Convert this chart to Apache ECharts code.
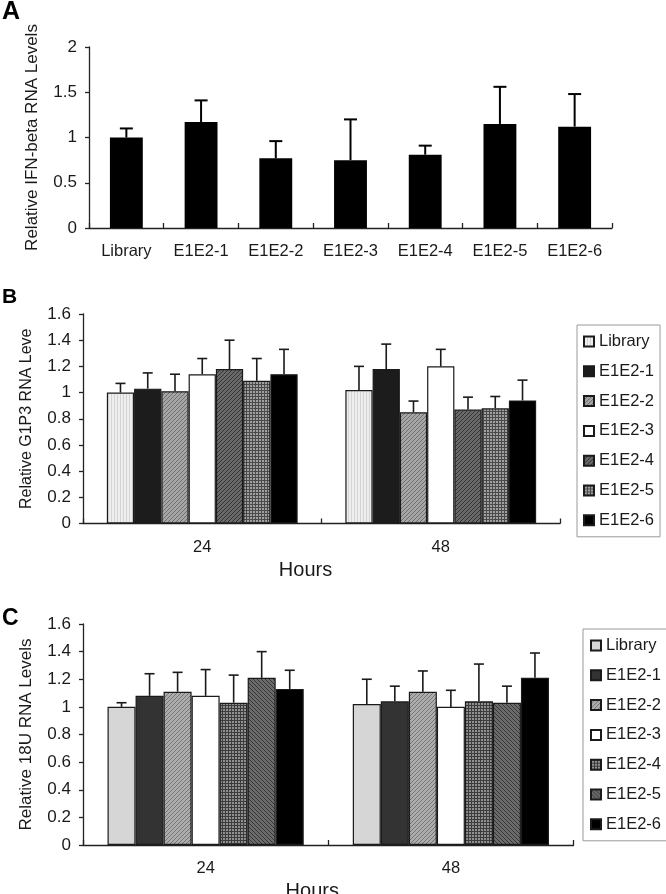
<!DOCTYPE html>
<html>
<head>
<meta charset="utf-8">
<script src="https://cdn.jsdelivr.net/npm/echarts@6/dist/echarts.min.js"></script>
<style>
html,body{margin:0;padding:0;background:#fff;}
#wrap{position:relative;width:666px;height:894px;overflow:hidden;}
.pane{position:absolute;left:0;width:666px;}
</style>
</head>
<body>
<div id="wrap">
<div id="pA" class="pane" style="top:0;height:270px;"></div>
<div id="pB" class="pane" style="top:270px;height:320px;"></div>
<div id="pC" class="pane" style="top:570px;height:324px;"></div>
</div>
<script>
// ---------- DATA ----------
const categoriesA = ['Library', 'E1E2-1', 'E1E2-2', 'E1E2-3', 'E1E2-4', 'E1E2-5', 'E1E2-6'];
const valuesA = [1.00, 1.17, 0.77, 0.75, 0.81, 1.15, 1.12];
const errorsA = [0.10, 0.24, 0.19, 0.45, 0.10, 0.41, 0.36];

const hours = ['24', '48'];
const seriesNames = ['Library', 'E1E2-1', 'E1E2-2', 'E1E2-3', 'E1E2-4', 'E1E2-5', 'E1E2-6'];

const valuesB24 = [1.00, 1.03, 1.01, 1.14, 1.18, 1.09, 1.14];
const errorsB24 = [0.07, 0.12, 0.13, 0.12, 0.22, 0.17, 0.19];
const valuesB48 = [1.02, 1.18, 0.85, 1.20, 0.87, 0.88, 0.94];
const errorsB48 = [0.18, 0.19, 0.085, 0.13, 0.095, 0.09, 0.155];

const valuesC24 = [1.00, 1.08, 1.11, 1.08, 1.03, 1.21, 1.13];
const errorsC24 = [0.03, 0.16, 0.14, 0.19, 0.20, 0.19, 0.135];
const valuesC48 = [1.02, 1.04, 1.11, 1.00, 1.04, 1.03, 1.21];
const errorsC48 = [0.18, 0.11, 0.15, 0.12, 0.27, 0.12, 0.18];

const yTicksA = {min: 0, max: 2, interval: 0.5};
const yTicksBC = {min: 0, max: 1.6, interval: 0.2};

// ---------- STYLE HELPERS ----------
const FONT = '"Liberation Sans", Arial, sans-serif';
const TXT = '#1a1a1a';

function pattern(kind, bg, fg) {
  const c = document.createElement('canvas');
  const n = kind === 'grid' ? 3 : (kind === 'vlines' ? 3 : 4);
  c.width = n; c.height = n;
  const g = c.getContext('2d');
  g.fillStyle = bg; g.fillRect(0, 0, n, n);
  g.fillStyle = fg;
  if (kind === 'diag') { for (let i = 0; i < n; i++) g.fillRect(i, n - 1 - i, 1, 1); }
  else if (kind === 'diag2') { for (let i = 0; i < n; i++) g.fillRect(i, i, 1, 1); }
  else if (kind === 'grid') { g.fillRect(0, 0, n, 1); g.fillRect(0, 0, 1, n); }
  else if (kind === 'vlines') { g.fillRect(0, 0, 1, n); }
  return {image: c, repeat: 'repeat'};
}

const fillsB = [
  pattern('vlines', '#eeeeee', '#d4d4d4'),
  '#1c1c1c',
  pattern('diag', '#a6a6a6', '#6e6e6e'),
  '#ffffff',
  pattern('diag', '#6a6a6a', '#343434'),
  pattern('grid', '#a0a0a0', '#4a4a4a'),
  '#000000'
];
const fillsC = [
  '#d6d6d6',
  '#333333',
  pattern('diag', '#acacac', '#767676'),
  '#ffffff',
  pattern('grid', '#909090', '#3c3c3c'),
  pattern('diag2', '#6c6c6c', '#353535'),
  '#000000'
];

function yAxisCfg(ticks, name, nameSize, gap) {
  return {
    type: 'value', min: ticks.min, max: ticks.max, interval: ticks.interval,
    name: name, nameLocation: 'middle', nameGap: gap, nameRotate: 90,
    nameTextStyle: {fontFamily: FONT, fontSize: nameSize, color: TXT},
    axisLine: {show: true, lineStyle: {color: '#222', width: 1.3}},
    axisTick: {show: true, inside: false, length: 4, lineStyle: {color: '#222', width: 1.3}},
    axisLabel: {fontFamily: FONT, fontSize: 17, color: TXT, margin: 12},
    splitLine: {show: false}
  };
}

function xAxisCfg(cats, withName) {
  const a = {
    type: 'category', data: cats,
    axisLine: {lineStyle: {color: '#222', width: 1.3}},
    axisTick: {show: true, inside: true, length: 5, alignWithLabel: false, lineStyle: {color: '#222', width: 1.3}},
    axisLabel: {fontFamily: FONT, fontSize: 16.5, color: TXT, margin: 15, interval: 0},
    splitLine: {show: false}
  };
  if (withName) {
    a.name = 'Hours'; a.nameLocation = 'middle'; a.nameGap = 29;
    a.nameTextStyle = {fontFamily: FONT, fontSize: 20, color: TXT, padding: [0, 32, 0, 0]};
  }
  return a;
}

function groupErrSeries(n, capHalf) {
  return function (params, api) {
    const t = api.value(0), v = api.value(1), e = api.value(2), s = api.value(3);
    const base = api.coord([t, v]);
    const top = api.coord([t, v + e]);
    const band = api.size([1, 0])[0];
    const gw = band * 0.8, bw = gw / n;
    const x = base[0] - gw / 2 + (s + 0.5) * bw;
    const st = {stroke: '#1a1a1a', lineWidth: 1.6};
    return {type: 'group', children: [
      {type: 'line', shape: {x1: x, y1: base[1], x2: x, y2: top[1]}, style: st},
      {type: 'line', shape: {x1: x - capHalf, y1: top[1], x2: x + capHalf, y2: top[1]}, style: st}
    ]};
  };
}

// ---------- PANEL A ----------
const chartA = echarts.init(document.getElementById('pA'));
chartA.setOption({
  animation: false,
  graphic: [{type: 'text', left: 2, top: 0, style: {text: 'A', font: 'bold 25px ' + FONT, fill: '#000'}}],
  grid: {left: 89, top: 47, width: 523, height: 181, containLabel: false, outerBoundsMode: 'none'},
  xAxis: xAxisCfg(categoriesA, false),
  yAxis: yAxisCfg(yTicksA, 'Relative IFN-beta RNA Levels', 17, 48),
  series: [
    {type: 'bar', data: valuesA, barWidth: '44%', itemStyle: {color: '#000'}},
    {type: 'custom', z: 3,
     data: categoriesA.map((c, i) => [i, valuesA[i], errorsA[i], 0]),
     encode: {x: 0, y: 1},
     renderItem: function (params, api) {
       const i = api.value(0), v = api.value(1), e = api.value(2);
       const b = api.coord([i, v]), t = api.coord([i, v + e]);
       const st = {stroke: '#000', lineWidth: 2};
       return {type: 'group', children: [
         {type: 'line', shape: {x1: b[0], y1: b[1], x2: b[0], y2: t[1]}, style: st},
         {type: 'line', shape: {x1: b[0] - 6.5, y1: t[1], x2: b[0] + 6.5, y2: t[1]}, style: st}
       ]};
     }}
  ]
});

// ---------- PANELS B / C ----------
function groupedPanel(domId, letter, letterSize, letterTop, grid, yName, yNameSize, v24, e24, v48, e48, fills, legendPos) {
  const ch = echarts.init(document.getElementById(domId));
  const series = seriesNames.map((nm, s) => ({
    name: nm, type: 'bar', barGap: 0, barCategoryGap: '20%',
    data: [v24[s], v48[s]],
    itemStyle: {color: fills[s], borderColor: '#1a1a1a', borderWidth: 1.2}
  }));
  const errData = [];
  seriesNames.forEach((nm, s) => {
    errData.push([0, v24[s], e24[s], s]);
    errData.push([1, v48[s], e48[s], s]);
  });
  series.push({type: 'custom', z: 3, data: errData, encode: {x: 0, y: 1},
               renderItem: groupErrSeries(seriesNames.length, 5)});
  grid.containLabel = false;
  grid.outerBoundsMode = 'none';
  ch.setOption({
    animation: false,
    graphic: [{type: 'text', left: 2, top: letterTop, style: {text: letter, font: 'bold ' + letterSize + 'px ' + FONT, fill: '#000'}}],
    grid: grid,
    legend: {
      data: seriesNames, orient: 'vertical', left: legendPos.left, top: legendPos.top,
      itemWidth: 10, itemHeight: 10, itemGap: 12.8, icon: 'rect',
      padding: [8, 6, 8, legendPos.padL], borderColor: '#9a9a9a', borderWidth: 1,
      textStyle: {fontFamily: FONT, fontSize: 16.5, color: TXT}, selectedMode: false
    },
    xAxis: xAxisCfg(hours, true),
    yAxis: yAxisCfg(yTicksBC, yName, yNameSize, 48),
    series: series
  });
  return ch;
}

groupedPanel('pB', 'B', 21, 17, {left: 83, top: 44, width: 477, height: 209.5},
  'Relative G1P3 RNA Leve', 16, valuesB24, errorsB24, valuesB48, errorsB48, fillsB,
  {left: 577, top: 55, padL: 6});

groupedPanel('pC', 'C', 23, 37, {left: 83, top: 54, width: 490.5, height: 221},
  'Relative 18U RNA Levels', 17, valuesC24, errorsC24, valuesC48, errorsC48, fillsC,
  {left: 583, top: 59, padL: 7});
</script>
</body>
</html>
